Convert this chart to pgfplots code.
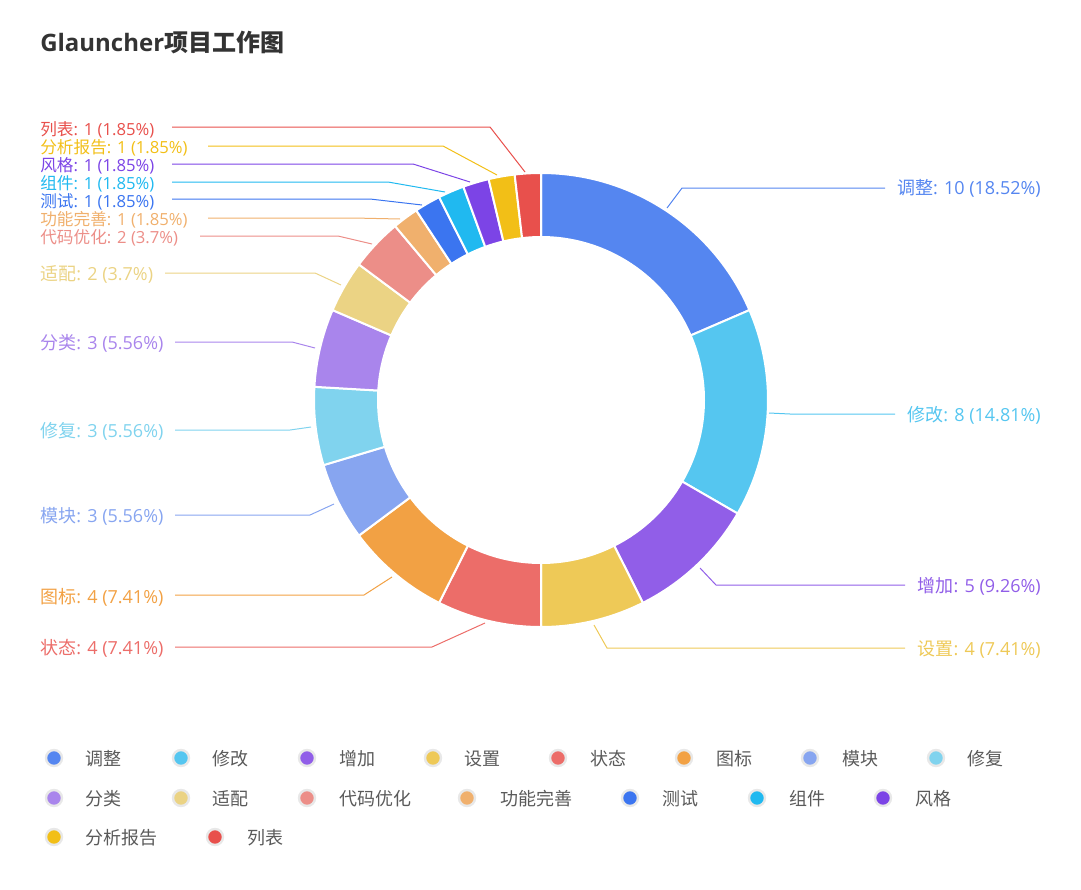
\documentclass[border=0pt]{standalone}
\usepackage{fontspec}
\setmainfont{Open Sans}
\newfontfamily\cjk{Noto Sans CJK SC}
\usepackage{pgfplots}
\usepackage{pgfplotstable}
\pgfplotsset{compat=1.18}

\definecolor{c0}{HTML}{5586F0}
\definecolor{c1}{HTML}{55C6F0}
\definecolor{c2}{HTML}{915EE8}
\definecolor{c3}{HTML}{EEC957}
\definecolor{c4}{HTML}{EC6D69}
\definecolor{c5}{HTML}{F2A144}
\definecolor{c6}{HTML}{87A5F0}
\definecolor{c7}{HTML}{80D3EE}
\definecolor{c8}{HTML}{A985EC}
\definecolor{c9}{HTML}{EBD384}
\definecolor{c10}{HTML}{EC8E88}
\definecolor{c11}{HTML}{F0B06D}
\definecolor{c12}{HTML}{3B75F0}
\definecolor{c13}{HTML}{20B9F0}
\definecolor{c14}{HTML}{7C44E6}
\definecolor{c15}{HTML}{F2BF17}
\definecolor{c16}{HTML}{E8504C}
\definecolor{titlec}{HTML}{333333}
\definecolor{legtxt}{HTML}{5A5A5A}

% task counts, clockwise from 12 o'clock
\pgfplotstableread{
id val
0 10
1 8
2 5
3 4
4 4
5 4
6 3
7 3
8 3
9 2
10 2
11 1
12 1
13 1
14 1
15 1
16 1
}\tasks

\newcommand\lblfont{\fontsize{13.5}{15}\selectfont}
\tikzset{lbl/.style={inner sep=0pt, text height=11.5pt, text depth=0pt, font=\lblfont},
         tight/.style={font=\fontsize{12.5}{14}\selectfont}}

% one ring segment, angles looked up by index
\newcommand\sector[1]{%
  \edef\tmp{\noexpand\filldraw[fill=c#1, draw=white, line width=1.5pt, line join=round]
    ([shift={(\csname sa#1\endcsname:170.25pt)}]axis cs:541,400)
    arc[start angle=\csname sa#1\endcsname, end angle=\csname ea#1\endcsname, radius=170.25pt]
    -- ([shift={(\csname ea#1\endcsname:122.25pt)}]axis cs:541,400)
    arc[start angle=\csname ea#1\endcsname, end angle=\csname sa#1\endcsname, radius=122.25pt]
    -- cycle;}%
  \tmp}

\newcommand\legitem[5]{%
  \addplot[only marks, mark=*, mark size=6pt,
    mark options={fill=#3, draw=gray!18, line width=1.8pt}] coordinates {(#1,#2)};
  \node[lbl, anchor=west, text=legtxt, font=\cjk\lblfont] at (axis cs:#4,#2) {#5};}

\begin{document}
\begin{tikzpicture}
% cumulative angles
\def\total{0}
\pgfplotsforeachungrouped \i in {0,...,16}{%
  \pgfplotstablegetelem{\i}{val}\of\tasks
  \pgfmathsetmacro\total{\total+\pgfplotsretval}}
\def\cum{0}
\pgfplotsforeachungrouped \i in {0,...,16}{%
  \pgfplotstablegetelem{\i}{val}\of\tasks
  \pgfmathsetmacro\angS{90-(\cum/\total)*360}
  \pgfmathsetmacro\cum{\cum+\pgfplotsretval}
  \pgfmathsetmacro\angE{90-(\cum/\total)*360}
  \expandafter\xdef\csname sa\i\endcsname{\angS}
  \expandafter\xdef\csname ea\i\endcsname{\angE}}
\begin{axis}[
    width=810.75pt, height=666.75pt, scale only axis,
    xmin=0, xmax=1081, ymin=0, ymax=889, y dir=reverse,
    enlargelimits=false, hide axis, clip=false,
]
\coordinate (bl) at (axis cs:0,889);
\coordinate (tr) at (axis cs:1081,0);
\pgfplotsinvokeforeach{0,...,16}{\sector{#1}}

% leader lines
\addplot[c0, line width=0.75pt] coordinates {(667,208)(682,188)(885,188)};
\addplot[c1, line width=0.75pt] coordinates {(769,413)(790,414)(895,414)};
\addplot[c2, line width=0.75pt] coordinates {(700,568)(716,585)(905,585)};
\addplot[c3, line width=0.75pt] coordinates {(594,625)(607,648)(905,648)};
\addplot[c4, line width=0.75pt] coordinates {(485,623)(432,647)(175,647)};
\addplot[c5, line width=0.75pt] coordinates {(392,577)(364,595)(175,595)};
\addplot[c6, line width=0.75pt] coordinates {(334,504)(310,515)(175,515)};
\addplot[c7, line width=0.75pt] coordinates {(311,427)(290,430)(175,430)};
\addplot[c8, line width=0.75pt] coordinates {(315,348)(292,342)(175,342)};
\addplot[c9, line width=0.75pt] coordinates {(341,285)(315,273)(165,273)};
\addplot[c10, line width=0.75pt] coordinates {(372,244)(338,236)(200,236)};
\addplot[c11, line width=0.75pt] coordinates {(400,219)(353,218)(208,218)};
\addplot[c12, line width=0.75pt] coordinates {(422,205)(370,199)(172,199)};
\addplot[c13, line width=0.75pt] coordinates {(445,192)(388,182)(172,182)};
\addplot[c14, line width=0.75pt] coordinates {(470,182)(413,164)(172,164)};
\addplot[c15, line width=0.75pt] coordinates {(497,175)(443,146)(208,146)};
\addplot[c16, line width=0.75pt] coordinates {(525,172)(490,127)(172,127)};

% slice labels
\node[lbl, anchor=east, text=c0] at (axis cs:1041,187) {{\cjk 调整}: 10 (18.52\%)};
\node[lbl, anchor=east, text=c1] at (axis cs:1041,414) {{\cjk 修改}: 8 (14.81\%)};
\node[lbl, anchor=east, text=c2] at (axis cs:1041,585) {{\cjk 增加}: 5 (9.26\%)};
\node[lbl, anchor=east, text=c3] at (axis cs:1041,648) {{\cjk 设置}: 4 (7.41\%)};
\node[lbl, anchor=west, text=c4] at (axis cs:40,647) {{\cjk 状态}: 4 (7.41\%)};
\node[lbl, anchor=west, text=c5] at (axis cs:40,596) {{\cjk 图标}: 4 (7.41\%)};
\node[lbl, anchor=west, text=c6] at (axis cs:40,515) {{\cjk 模块}: 3 (5.56\%)};
\node[lbl, anchor=west, text=c7] at (axis cs:40,430) {{\cjk 修复}: 3 (5.56\%)};
\node[lbl, anchor=west, text=c8] at (axis cs:40,342) {{\cjk 分类}: 3 (5.56\%)};
\node[lbl, anchor=west, text=c9] at (axis cs:40,273) {{\cjk 适配}: 2 (3.7\%)};
\node[lbl, tight, anchor=west, text=c10] at (axis cs:40,236) {{\cjk 代码优化}: 2 (3.7\%)};
\node[lbl, tight, anchor=west, text=c11] at (axis cs:40,218) {{\cjk 功能完善}: 1 (1.85\%)};
\node[lbl, tight, anchor=west, text=c12] at (axis cs:40,200) {{\cjk 测试}: 1 (1.85\%)};
\node[lbl, tight, anchor=west, text=c13] at (axis cs:40,182) {{\cjk 组件}: 1 (1.85\%)};
\node[lbl, tight, anchor=west, text=c14] at (axis cs:40,164) {{\cjk 风格}: 1 (1.85\%)};
\node[lbl, tight, anchor=west, text=c15] at (axis cs:40,146) {{\cjk 分析报告}: 1 (1.85\%)};
\node[lbl, tight, anchor=west, text=c16] at (axis cs:40,128) {{\cjk 列表}: 1 (1.85\%)};

% title
\node[anchor=west, inner sep=0pt, text=titlec, font=\bfseries\fontsize{18}{22}\selectfont]
  at (axis cs:40,42) {Glauncher{\cjk 项目工作图}};

% legend
\legitem{54}{758}{c0}{85}{调整}
\legitem{181}{758}{c1}{212}{修改}
\legitem{307}{758}{c2}{339}{增加}
\legitem{433}{758}{c3}{464}{设置}
\legitem{558}{758}{c4}{590}{状态}
\legitem{684}{758}{c5}{716}{图标}
\legitem{810}{758}{c6}{842}{模块}
\legitem{936}{758}{c7}{967}{修复}
\legitem{54}{798}{c8}{85}{分类}
\legitem{181}{798}{c9}{212}{适配}
\legitem{307}{798}{c10}{339}{代码优化}
\legitem{467}{798}{c11}{500}{功能完善}
\legitem{630}{798}{c12}{662}{测试}
\legitem{757}{798}{c13}{789}{组件}
\legitem{883}{798}{c14}{915}{风格}
\legitem{54}{837}{c15}{85}{分析报告}
\legitem{215}{837}{c16}{247}{列表}
\end{axis}
\pgfresetboundingbox
\path[use as bounding box] (bl) rectangle (tr);
\end{tikzpicture}
\end{document}
